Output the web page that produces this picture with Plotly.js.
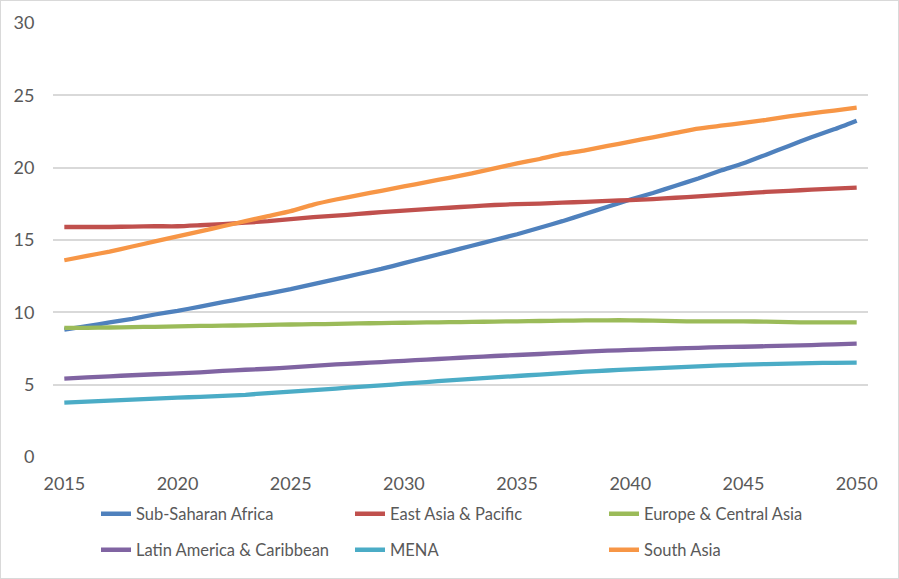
<!DOCTYPE html>
<html>
<head>
<meta charset="utf-8">
<script src="https://cdn.plot.ly/plotly-3.0.1.min.js"></script>
<style>
html,body{margin:0;padding:0;background:#fff;}
#chart{width:897px;height:577px;border:1px solid #d9d9d9;}
</style>
</head>
<body>
<div id="chart"></div>
<script>
const years = [];
for (let y = 2015; y <= 2050; y++) years.push(y);
const xTickVals = [2015, 2020, 2025, 2030, 2035, 2040, 2045, 2050];
const xTickText = ["2015", "2020", "2025", "2030", "2035", "2040", "2045", "2050"];

const subSaharanAfrica = [8.8, 9.05, 9.3, 9.55, 9.85, 10.1, 10.4, 10.7, 11.0, 11.3, 11.6, 11.95, 12.3, 12.65, 13.0, 13.4, 13.8, 14.2, 14.6, 15.0, 15.4, 15.85, 16.3, 16.8, 17.3, 17.8, 18.25, 18.75, 19.25, 19.8, 20.3, 20.9, 21.5, 22.1, 22.65, 23.25];
const eastAsiaPacific = [15.9, 15.9, 15.9, 15.93, 15.95, 15.95, 16.02, 16.1, 16.2, 16.3, 16.45, 16.58, 16.68, 16.8, 16.93, 17.03, 17.13, 17.23, 17.33, 17.42, 17.48, 17.52, 17.58, 17.64, 17.7, 17.76, 17.83, 17.92, 18.02, 18.12, 18.22, 18.32, 18.4, 18.48, 18.55, 18.62];
const europeCentralAsia = [8.92, 8.93, 8.95, 8.98, 9.0, 9.03, 9.06, 9.08, 9.1, 9.13, 9.16, 9.18, 9.2, 9.23, 9.26, 9.28, 9.3, 9.32, 9.34, 9.36, 9.38, 9.4, 9.42, 9.44, 9.45, 9.45, 9.42, 9.39, 9.37, 9.37, 9.37, 9.36, 9.32, 9.3, 9.3, 9.3];
const latinAmericaCaribbean = [5.42, 5.5, 5.58, 5.65, 5.72, 5.78, 5.85, 5.95, 6.03, 6.1, 6.2, 6.3, 6.4, 6.48, 6.56, 6.65, 6.73, 6.82, 6.9, 6.98, 7.05, 7.12, 7.2, 7.28, 7.35, 7.4, 7.45, 7.5, 7.55, 7.6, 7.62, 7.66, 7.7, 7.74, 7.79, 7.84];
const mena = [3.76, 3.83, 3.9, 3.97, 4.03, 4.1, 4.16, 4.23, 4.3, 4.42, 4.52, 4.63, 4.73, 4.85, 4.95, 5.07, 5.18, 5.3, 5.4, 5.5, 5.6, 5.7, 5.8, 5.9, 5.98, 6.06, 6.13, 6.2, 6.27, 6.33, 6.38, 6.42, 6.45, 6.49, 6.51, 6.52];
const southAsia = [13.6, 13.9, 14.2, 14.55, 14.9, 15.25, 15.6, 15.95, 16.3, 16.65, 17.0, 17.45, 17.8, 18.1, 18.4, 18.7, 19.0, 19.3, 19.6, 19.95, 20.3, 20.6, 20.95, 21.2, 21.5, 21.8, 22.1, 22.4, 22.7, 22.9, 23.1, 23.3, 23.55, 23.75, 23.95, 24.15];

const seriesNames = ["Sub-Saharan Africa", "East Asia & Pacific", "Europe & Central Asia", "Latin America & Caribbean", "MENA", "South Asia"];
const seriesData = [subSaharanAfrica, eastAsiaPacific, europeCentralAsia, latinAmericaCaribbean, mena, southAsia];
const seriesColors = ["#4F81BD", "#C0504D", "#9BBB59", "#8064A2", "#4BACC6", "#F79646"];

const traces = seriesNames.map((name, i) => ({
  x: years,
  y: seriesData[i],
  name: name,
  type: "scatter",
  mode: "lines",
  line: {color: seriesColors[i], width: 4.3, shape: "spline", smoothing: 0.5},
  legend: i < 3 ? "legend" : "legend2",
  hoverinfo: "x+y+name"
}));

const legendCommon = {
  orientation: "h",
  xref: "container",
  yref: "container",
  xanchor: "left",
  yanchor: "middle",
  entrywidth: 209,
  entrywidthmode: "pixels",
  font: {family: "Lato, sans-serif", size: 16.5, color: "#595959"},
  bgcolor: "rgba(0,0,0,0)",
  itemclick: false,
  itemdoubleclick: false
};

const layout = {
  width: 897,
  height: 577,
  margin: {l: 52, r: 30, t: 22, b: 121},
  paper_bgcolor: "#ffffff",
  plot_bgcolor: "#ffffff",
  showlegend: true,
  font: {family: "Lato, sans-serif", color: "#595959"},
  xaxis: {
    type: "linear",
    range: [2014.5, 2050.5],
    tickvals: xTickVals,
    ticktext: xTickText,
    showgrid: false,
    zeroline: false,
    showline: false,
    ticks: "outside",
    ticklen: 10,
    tickcolor: "rgba(0,0,0,0)",
    tickfont: {family: "Lato, sans-serif", size: 18, color: "#595959"},
    fixedrange: true
  },
  yaxis: {
    range: [0, 30],
    dtick: 5,
    tick0: 0,
    showgrid: true,
    gridcolor: "#d9d9d9",
    gridwidth: 1.5,
    zeroline: false,
    showline: false,
    ticks: "outside",
    ticklen: 14,
    tickcolor: "rgba(0,0,0,0)",
    tickfont: {family: "Lato, sans-serif", size: 18, color: "#595959"},
    fixedrange: true
  },
  legend: Object.assign({}, legendCommon, {x: 95 / 897, y: 1 - 513 / 577}),
  legend2: Object.assign({}, legendCommon, {x: 95 / 897, y: 1 - 549 / 577})
};

Plotly.newPlot("chart", traces, layout, {displayModeBar: false});
</script>
</body>
</html>
